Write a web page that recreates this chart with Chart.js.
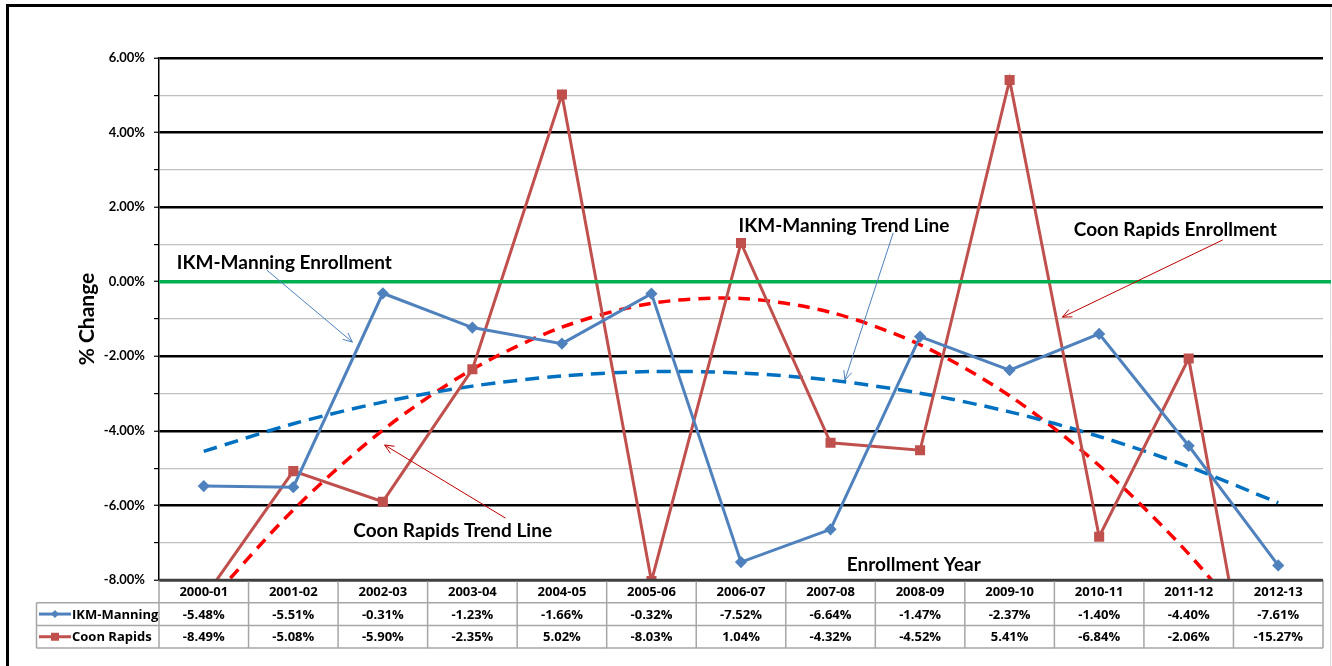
<!DOCTYPE html>
<html>
<head>
<meta charset="utf-8">
<script src="https://cdn.jsdelivr.net/npm/chart.js@4"></script>
<style>
  html, body { margin: 0; padding: 0; background: #fff; }
  #wrap { width: 1332px; height: 666px; }
</style>
</head>
<body>
<div id="wrap"><canvas id="enrollChart"></canvas></div>
<script>
const years = ["2000-01", "2001-02", "2002-03", "2003-04", "2004-05", "2005-06", "2006-07",
  "2007-08", "2008-09", "2009-10", "2010-11", "2011-12", "2012-13"];
const ikmManning = [-5.48, -5.51, -0.31, -1.23, -1.66, -0.32, -7.52, -6.64, -1.47, -2.37, -1.40, -4.40, -7.61];
const coonRapids = [-8.49, -5.08, -5.90, -2.35, 5.02, -8.03, 1.04, -4.32, -4.52, 5.41, -6.84, -2.06, -15.27];
// trend lines
const ikmTrend = [-4.55, -3.81, -3.23, -2.80, -2.53, -2.41, -2.45, -2.64, -2.99, -3.49, -4.15, -4.96, -5.93];
const coonTrend = [-8.75, -6.12, -3.98, -2.35, -1.22, -0.58, -0.45, -0.82, -1.69, -3.06, -4.93, -7.30, -10.17];
const yMin = -8, yMax = 6;

// callouts, placed in data units (category index, % value)
const notes = [
  { text: "IKM-Manning Enrollment", at: [0.90, 0.50], from: [0.70, 0.32], to: [1.66, -1.62], color: "#4f81bd" },
  { text: "IKM-Manning Trend Line", at: [7.15, 1.50], from: [7.70, 1.31], to: [7.16, -2.64], color: "#4f81bd" },
  { text: "Coon Rapids Enrollment", at: [10.85, 1.39], from: [11.38, 1.12], to: [9.59, -0.95], color: "#c00000" },
  { text: "Coon Rapids Trend Line", at: [2.78, -6.68], from: [3.37, -6.34], to: [2.02, -4.38], color: "#c00000" },
  { text: "Enrollment Year", at: [7.93, -7.60] },
];

const FONT = "Lato";
const TABLE_FONT = "'Open Sans'";

function line(ctx, x1, y1, x2, y2) {
  ctx.beginPath();
  ctx.moveTo(x1, y1);
  ctx.lineTo(x2, y2);
  ctx.stroke();
}

const framePlugin = {
  id: "frame",
  beforeDraw(chart) {
    const { ctx } = chart;
    ctx.save();
    ctx.fillStyle = "#fff";
    ctx.fillRect(0, 0, chart.width, chart.height);
    ctx.strokeStyle = "#000";
    ctx.lineWidth = 3;
    ctx.strokeRect(7.5, 5.5, 1360, 720);
    ctx.strokeStyle = "#d9d9d9";
    ctx.lineWidth = 1;
    line(ctx, 1330.5, 7, 1330.5, 666);
    ctx.restore();
  },
  afterDatasetsDraw(chart) {
    // zero line
    const { ctx, chartArea: area, scales: { y } } = chart;
    const y0 = y.getPixelForValue(0);
    ctx.save();
    ctx.strokeStyle = "#00b050";
    ctx.lineWidth = 3.5;
    line(ctx, area.left, y0, 1331, y0);
    ctx.restore();
  },
  afterDraw(chart) {
    const { ctx, chartArea: area, scales: { x, y } } = chart;
    const colW = x.getPixelForValue(1) - x.getPixelForValue(0);
    const rowH = 22.7;
    const top = area.bottom;
    const keyLeft = 36.5;
    ctx.save();

    // data table grid
    ctx.strokeStyle = "#a6a6a6";
    ctx.lineWidth = 1.5;
    for (let r = 1; r <= 3; r++) line(ctx, keyLeft, top + r * rowH, area.right, top + r * rowH);
    line(ctx, keyLeft, top + rowH, keyLeft, top + 3 * rowH);
    for (let i = 0; i <= years.length; i++) {
      const xx = x.getPixelForValue(0) - colW / 2 + i * colW;
      line(ctx, xx, top, xx, top + 3 * rowH);
    }
    ctx.strokeStyle = "#404040";
    ctx.lineWidth = 2.5;
    line(ctx, area.left, top, area.right, top);

    ctx.fillStyle = "#000";
    ctx.font = "bold 13px " + TABLE_FONT;
    ctx.textAlign = "center";
    ctx.textBaseline = "middle";
    years.forEach((yr, i) => ctx.fillText(yr, x.getPixelForValue(i), top + rowH / 2 + 1));

    const rows = [
      { label: "IKM-Manning", values: ikmManning, color: "#4f81bd", marker: "diamond" },
      { label: "Coon Rapids", values: coonRapids, color: "#c0504d", marker: "square" },
    ];
    rows.forEach((row, r) => {
      const cy = top + rowH * (r + 1.5) + 1;
      row.values.forEach((v, i) => ctx.fillText(v.toFixed(2) + "%", x.getPixelForValue(i), cy));
      // legend key
      ctx.strokeStyle = row.color;
      ctx.fillStyle = row.color;
      ctx.lineWidth = 3;
      line(ctx, 39, cy - 1, 71, cy - 1);
      ctx.beginPath();
      if (row.marker === "diamond") {
        ctx.moveTo(55, cy - 5); ctx.lineTo(59, cy - 1); ctx.lineTo(55, cy + 3); ctx.lineTo(51, cy - 1);
      } else {
        ctx.rect(51, cy - 5, 8, 8);
      }
      ctx.fill();
      ctx.fillStyle = "#000";
      ctx.textAlign = "left";
      ctx.fillText(row.label, 72, cy);
      ctx.textAlign = "center";
    });

    // callouts
    const px = p => [x.getPixelForValue(p[0]), y.getPixelForValue(p[1])];
    ctx.font = "bold 19px " + FONT;
    notes.forEach(n => {
      const [tx, ty] = px(n.at);
      ctx.fillStyle = "#000";
      ctx.fillText(n.text, tx, ty);
      if (!n.from) return;
      const [x1, y1] = px(n.from);
      const [x2, y2] = px(n.to);
      ctx.strokeStyle = n.color;
      ctx.lineWidth = 1;
      line(ctx, x1, y1, x2, y2);
      const ang = Math.atan2(y2 - y1, x2 - x1);
      const len = 10;
      [-0.42, 0.42].forEach(d => {
        line(ctx, x2, y2, x2 - len * Math.cos(ang + d), y2 - len * Math.sin(ang + d));
      });
    });
    ctx.restore();
  },
};

new Chart(document.getElementById("enrollChart"), {
  type: "line",
  data: {
    labels: years,
    datasets: [
      {
        label: "IKM-Manning",
        data: ikmManning,
        borderColor: "#4f81bd",
        backgroundColor: "#4f81bd",
        borderWidth: 3,
        pointStyle: "rectRot",
        pointRadius: 4,
        tension: 0,
        clip: 1,
      },
      {
        label: "Coon Rapids",
        data: coonRapids,
        borderColor: "#c0504d",
        backgroundColor: "#c0504d",
        borderWidth: 3,
        pointStyle: "rect",
        pointRadius: 5,
        tension: 0,
        clip: 1,
      },
      {
        label: "IKM-Manning Trend",
        data: ikmTrend,
        borderColor: "#0070c0",
        borderWidth: 3.5,
        borderDash: [14, 8],
        pointRadius: 0,
        tension: 0.3,
        clip: 1,
      },
      {
        label: "Coon Rapids Trend",
        data: coonTrend,
        borderColor: "#ff0000",
        borderWidth: 3.5,
        borderDash: [12, 8],
        pointRadius: 0,
        tension: 0.3,
        clip: 1,
      },
    ],
  },
  options: {
    responsive: true,
    maintainAspectRatio: false,
    animation: false,
    layout: { padding: { left: 0, top: 58, right: 9, bottom: 86 } },
    plugins: {
      legend: { display: false },
      tooltip: { enabled: false },
    },
    scales: {
      x: {
        type: "category",
        offset: true,
        ticks: { display: false },
        grid: { display: false },
        border: { display: false },
        afterFit: s => { s.height = 0; },
      },
      y: {
        min: yMin,
        max: yMax,
        ticks: {
          stepSize: 1,
          color: "#000",
          padding: 9,
          font: { family: FONT, size: 13, weight: "bold" },
          callback: v => (v % 2 === 0 ? v.toFixed(2) + "%" : ""),
        },
        grid: {
          color: c => (c.tick && c.tick.value % 2 === 0 ? "#000" : "#c0c0c0"),
          lineWidth: c => (c.tick && c.tick.value % 2 === 0 ? 2.5 : 1.2),
          tickColor: "#000",
          tickLength: 5,
          tickWidth: 1.2,
        },
        border: { display: true, color: "#000", width: 1.5 },
        title: {
          display: true,
          text: "% Change",
          color: "#000",
          font: { family: FONT, size: 21, weight: "bold" },
          padding: { top: 75, bottom: 0 },
        },
        afterFit: s => { s.width = 159; },
      },
    },
  },
  plugins: [framePlugin],
});
</script>
</body>
</html>
